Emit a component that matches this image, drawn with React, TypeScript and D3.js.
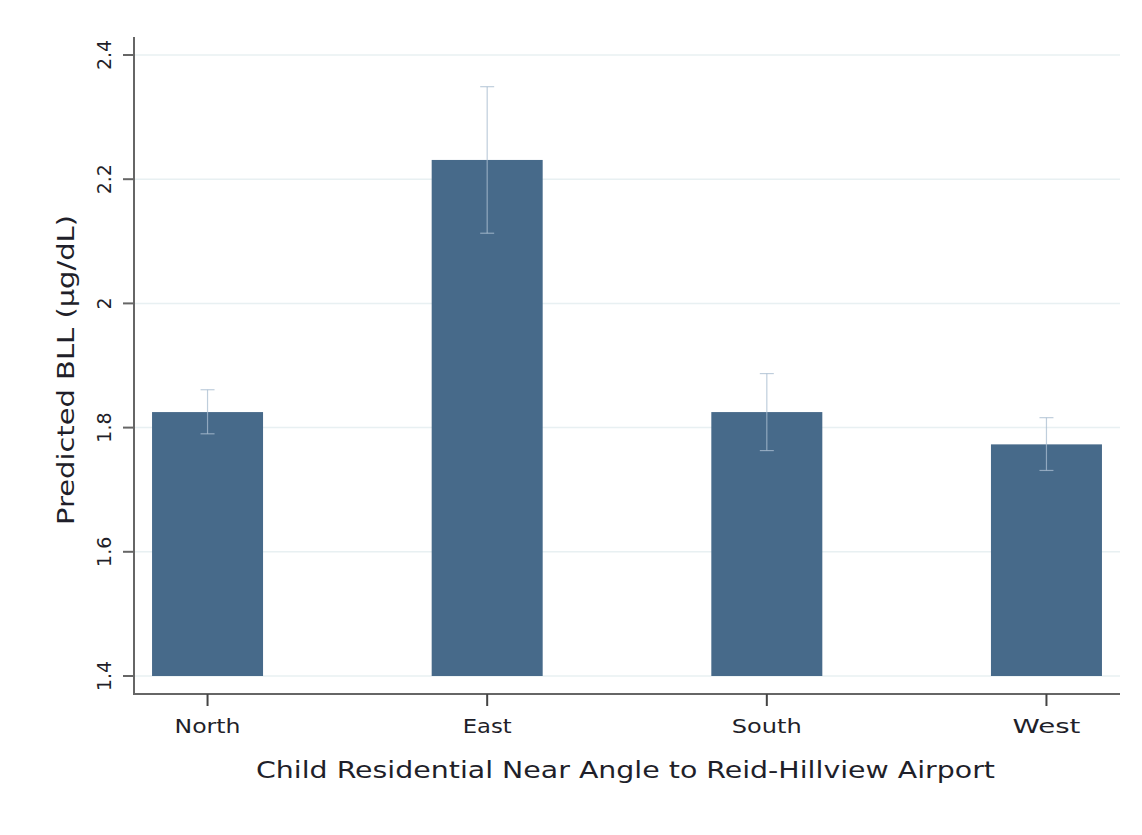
import React from "react";
import * as d3 from "d3";

const categories = ["North", "East", "South", "West"];
const predicted = [1.825, 2.231, 1.825, 1.773];
const ciLower = [1.79, 2.113, 1.763, 1.731];
const ciUpper = [1.861, 2.349, 1.887, 1.816];
const yTicks = [1.4, 1.6, 1.8, 2.0, 2.2, 2.4];
const catLabelWidths = [66, 49, 70, 68];

const W = 1142;
const H = 835;
const FONT = "'DejaVu Sans', 'Open Sans', sans-serif";
const TXT = "#1f1f2a";

export default function App() {
  const left = 134;
  const right = 1120;
  const y = d3.scaleLinear().domain([1.4, 2.4]).range([676, 55]);
  const x = d3.scalePoint<string>().domain(categories).range([left, right]).padding(0.263);
  const barW = 111;
  const axisBottom = 694;
  const fmt = (v: number) => (Number.isInteger(v) ? d3.format("d")(v) : d3.format(".1f")(v));

  return (
    <svg width={W} height={H} style={{ position: "absolute", left: 0, top: 0, background: "#fff" }}>
      <rect x={0} y={0} width={W} height={H} fill="#fff" />
      {yTicks.map((t) => (
        <line key={"g" + t} x1={left} x2={right} y1={y(t)} y2={y(t)} stroke="#e8f0f2" strokeWidth={1.5} />
      ))}
      {categories.map((c, i) => (
        <rect
          key={"b" + c}
          x={(x(c) as number) - barW / 2}
          y={y(predicted[i])}
          width={barW}
          height={y(1.4) - y(predicted[i])}
          fill="#476a8a"
        />
      ))}
      {categories.map((c, i) => {
        const cx = x(c) as number;
        return (
          <g key={"e" + c} stroke="#a9bdd0" strokeOpacity={0.75} strokeWidth={1.2}>
            <line x1={cx} x2={cx} y1={y(ciUpper[i])} y2={y(ciLower[i])} />
            <line x1={cx - 7} x2={cx + 7} y1={y(ciUpper[i])} y2={y(ciUpper[i])} />
            <line x1={cx - 7} x2={cx + 7} y1={y(ciLower[i])} y2={y(ciLower[i])} />
          </g>
        );
      })}
      <line x1={left} x2={left} y1={37} y2={axisBottom + 1} stroke="#666" strokeWidth={2} />
      <line x1={left - 1} x2={right} y1={axisBottom} y2={axisBottom} stroke="#666" strokeWidth={2} />
      {yTicks.map((t) => (
        <g key={"t" + t}>
          <line x1={left - 11} x2={left} y1={y(t)} y2={y(t)} stroke="#666" strokeWidth={2} />
          <text
            transform={`translate(111,${y(t)}) rotate(-90)`}
            textAnchor="middle"
            fontFamily={FONT}
            fontSize={19}
            fill={TXT}
          >
            {fmt(t)}
          </text>
        </g>
      ))}
      {categories.map((c, i) => (
        <g key={"x" + c}>
          <line x1={x(c) as number} x2={x(c) as number} y1={axisBottom} y2={axisBottom + 12} stroke="#444" strokeWidth={2} />
          <text
            x={(x(c) as number) - catLabelWidths[i] / 2}
            y={733}
            textLength={catLabelWidths[i]}
            lengthAdjust="spacingAndGlyphs"
            fontFamily={FONT}
            fontSize={20}
            fill={TXT}
          >
            {c}
          </text>
        </g>
      ))}
      <text
        transform={`translate(74,525) rotate(-90)`}
        textLength={310}
        lengthAdjust="spacingAndGlyphs"
        fontFamily={FONT}
        fontSize={23}
        fill={TXT}
      >
        Predicted BLL (µg/dL)
      </text>
      <text
        x={256}
        y={778}
        textLength={739}
        lengthAdjust="spacingAndGlyphs"
        fontFamily={FONT}
        fontSize={23}
        fill={TXT}
      >
        Child Residential Near Angle to Reid-Hillview Airport
      </text>
    </svg>
  );
}
